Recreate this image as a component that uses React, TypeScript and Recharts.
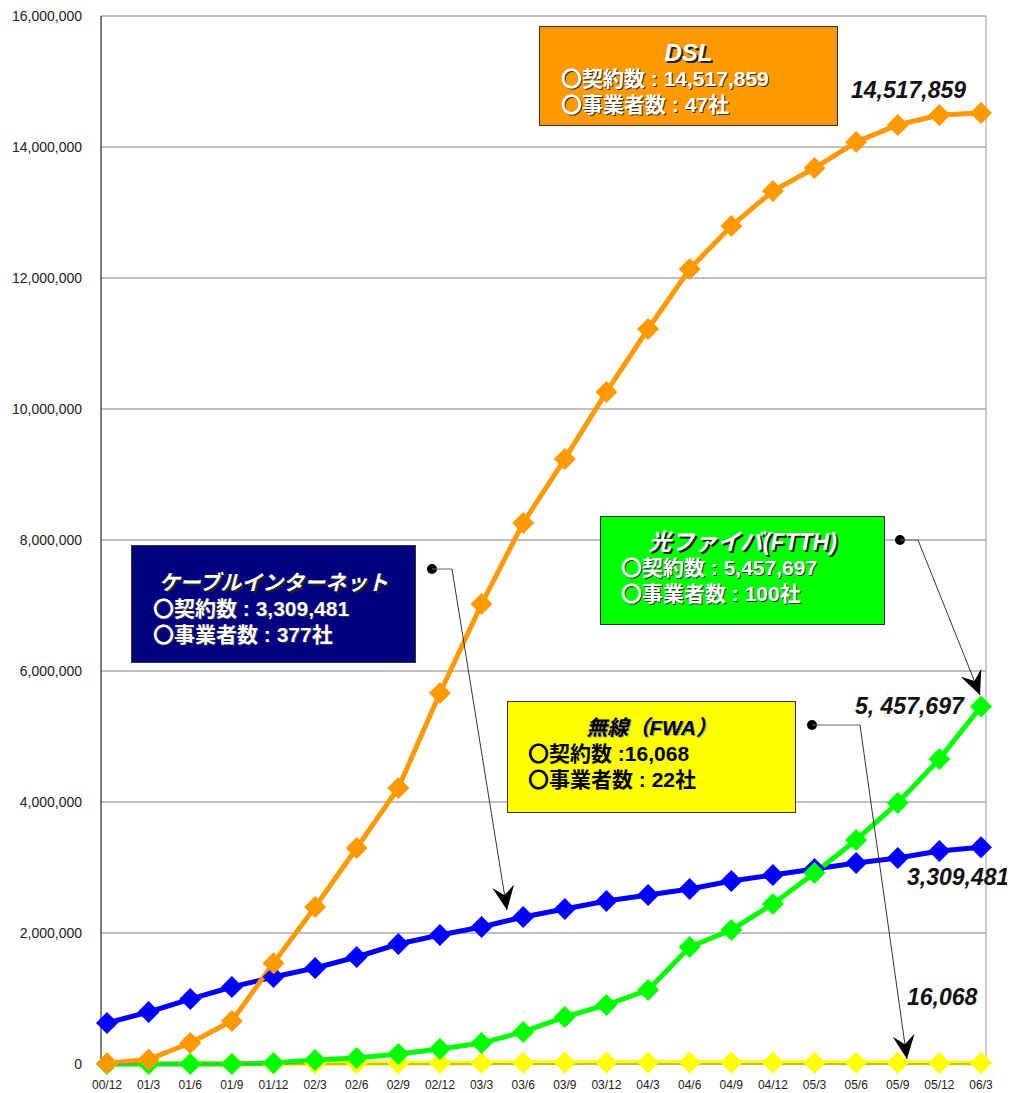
import React from "react";
import { LineChart, Line, XAxis, YAxis, CartesianGrid } from "recharts";

const categories = [
  "00/12", "01/3", "01/6", "01/9", "01/12", "02/3", "02/6", "02/9", "02/12",
  "03/3", "03/6", "03/9", "03/12", "04/3", "04/6", "04/9", "04/12",
  "05/3", "05/6", "05/9", "05/12", "06/3",
];

const dslValues = [
  10000, 70000, 320000, 656000, 1540000, 2397000, 3298000, 4214000, 5664000,
  7023000, 8260000, 9237000, 10260000, 11221000, 12137000, 12794000, 13328000,
  13679000, 14076000, 14336000, 14489000, 14517859,
];

const cableValues = [
  626000, 794000, 992000, 1175000, 1328000, 1466000, 1634000, 1832000, 1969000,
  2092000, 2244000, 2366000, 2489000, 2580000, 2672000, 2794000, 2885000,
  2977000, 3069000, 3145000, 3252000, 3309481,
];

const ftthValues = [
  0, 0, 0, 1000, 15000, 60000, 92000, 153000, 229000,
  320000, 489000, 718000, 901000, 1130000, 1786000, 2046000, 2443000,
  2916000, 3420000, 3985000, 4656000, 5457697,
];

const fwaValues = [
  0, 1000, 2000, 3000, 5000, 7000, 10000, 13000, 15000,
  17000, 19000, 21000, 22000, 23000, 23000, 22000, 21000,
  20000, 19000, 18000, 17000, 16068,
];

const yTicks = [0, 2000000, 4000000, 6000000, 8000000, 10000000, 12000000, 14000000, 16000000];

const data = categories.map((period, i) => ({
  period,
  dsl: dslValues[i],
  cable: cableValues[i],
  ftth: ftthValues[i],
  fwa: fwaValues[i],
}));

const latin = "'Liberation Sans', Arial, 'Noto Sans CJK JP', sans-serif";

const diamond = (color: string) => (props: any) => {
  const { cx, cy, index } = props;
  if (cx == null || cy == null) return <g key={index} />;
  const r = 11;
  return (
    <polygon
      key={index}
      points={`${cx},${cy - r} ${cx + r},${cy} ${cx},${cy + r} ${cx - r},${cy}`}
      fill={color}
    />
  );
};

const boxBase: React.CSSProperties = {
  position: "absolute",
  boxSizing: "border-box",
  border: "1px solid #333",
  fontFamily: latin,
  fontWeight: "bold",
  fontSize: 21,
  lineHeight: "26px",
  whiteSpace: "nowrap",
};

const whiteShadow = "1px 1px 0 #333";

function InfoBox(props: {
  left: number; top: number; width: number; height: number; bg: string;
  padTop: number; padLeft: number; title: string; titleSize: number;
  lines: string[]; dark?: boolean;
}) {
  const color = props.dark ? "#000" : "#fff";
  return (
    <div
      style={{
        ...boxBase,
        left: props.left,
        top: props.top,
        width: props.width,
        height: props.height,
        background: props.bg,
        paddingTop: props.padTop,
        color,
        textShadow: props.dark ? "none" : whiteShadow,
      }}
    >
      <div
        style={{
          textAlign: "center",
          fontStyle: "italic",
          fontSize: props.titleSize,
          textShadow: props.dark ? "1px 1px 0 #999" : "2px 2px 0 #222",
        }}
      >
        {props.title}
      </div>
      {props.lines.map((l) => (
        <div key={l} style={{ paddingLeft: props.padLeft }}>{l}</div>
      ))}
    </div>
  );
}

const valueLabel: React.CSSProperties = {
  position: "absolute",
  fontFamily: latin,
  fontWeight: "bold",
  fontStyle: "italic",
  fontSize: 23,
  lineHeight: "24px",
  color: "#111",
  whiteSpace: "nowrap",
};

export default function App() {
  return (
    <div style={{ position: "relative", width: 1007, height: 1085 }}>
      <LineChart
        width={1007}
        height={1085}
        data={data}
        margin={{ top: 8, right: 0, bottom: 0, left: 0 }}
      >
        <CartesianGrid vertical={false} stroke="#808080" />
        <XAxis
          dataKey="period"
          height={29}
          padding={{ left: 6, right: 5 }}
          tickLine={false}
          tickSize={0}
          tickMargin={16}
          axisLine={{ stroke: "#808080" }}
          tick={{ fontSize: 12, fill: "#222", fontFamily: latin }}
          interval={0}
        />
        <YAxis
          width={93}
          domain={[0, 16000000]}
          ticks={yTicks}
          tickFormatter={(v) => v.toLocaleString("en-US")}
          tickLine={false}
          tickSize={0}
          tickMargin={19}
          axisLine={{ stroke: "#000" }}
          tick={{ fontSize: 14, fill: "#222", fontFamily: latin }}
          interval={0}
        />
        <YAxis
          yAxisId="frame"
          orientation="right"
          width={29}
          domain={[0, 1]}
          tick={false}
          tickLine={false}
          axisLine={{ stroke: "#999" }}
        />
        <Line dataKey="fwa" stroke="#FFFF00" strokeWidth={5} dot={diamond("#FFFF00")} activeDot={false} isAnimationActive={false} />
        <Line dataKey="cable" stroke="#0000FF" strokeWidth={5} dot={diamond("#0000FF")} activeDot={false} isAnimationActive={false} />
        <Line dataKey="ftth" stroke="#00FF00" strokeWidth={5} dot={diamond("#00FF00")} activeDot={false} isAnimationActive={false} />
        <Line dataKey="dsl" stroke="#FF9900" strokeWidth={5} dot={diamond("#FF9900")} activeDot={false} isAnimationActive={false} />
      </LineChart>

      <svg
        width={1007}
        height={1085}
        style={{ position: "absolute", left: 0, top: 0, pointerEvents: "none" }}
      >
        <defs>
          <marker
            id="stealth"
            viewBox="0 0 24 22"
            refX={24}
            refY={11}
            markerWidth={24}
            markerHeight={22}
            markerUnits="userSpaceOnUse"
            orient="auto"
          >
            <path d="M24,11 L0,0 L9,11 L0,22 Z" fill="#000" />
          </marker>
        </defs>
        {[
          { d: [424, 561], h: 444, t: [499, 902] },
          { d: [892, 532], h: 910, t: [972, 687] },
          { d: [804, 717], h: 852, t: [899, 1051] },
        ].map((a, i) => (
          <g key={i}>
            <circle cx={a.d[0]} cy={a.d[1]} r={5} fill="#000" />
            <line x1={a.d[0]} y1={a.d[1]} x2={a.h} y2={a.d[1]} stroke="#666" strokeWidth={1} />
            <line x1={a.h} y1={a.d[1]} x2={a.t[0]} y2={a.t[1]} stroke="#333" strokeWidth={1} markerEnd="url(#stealth)" />
          </g>
        ))}
      </svg>

      <InfoBox left={531} top={18} width={299} height={100} bg="#FF9900" padTop={13} padLeft={21}
        title="DSL" titleSize={24} lines={["〇契約数 : 14,517,859", "〇事業者数 : 47社"]} />
      <InfoBox left={123} top={537} width={285} height={118} bg="#000080" padTop={24} padLeft={21}
        title="ケーブルインターネット" titleSize={21} lines={["〇契約数 : 3,309,481", "〇事業者数 : 377社"]} />
      <InfoBox left={592} top={508} width={285} height={109} bg="#00FF00" padTop={12} padLeft={20}
        title="光ファイバ(FTTH)" titleSize={23} lines={["〇契約数 : 5,457,697", "〇事業者数 : 100社"]} />
      <InfoBox left={499} top={693} width={289} height={112} bg="#FFFF00" padTop={13} padLeft={20}
        title="無線（FWA）" titleSize={21} lines={["〇契約数 :16,068", "〇事業者数 : 22社"]} dark />

      <div style={{ ...valueLabel, left: 843, top: 70 }}>14,517,859</div>
      <div style={{ ...valueLabel, left: 847, top: 686 }}>5, 457,697</div>
      <div style={{ ...valueLabel, left: 899, top: 857 }}>3,309,481</div>
      <div style={{ ...valueLabel, left: 899, top: 977 }}>16,068</div>
    </div>
  );
}
